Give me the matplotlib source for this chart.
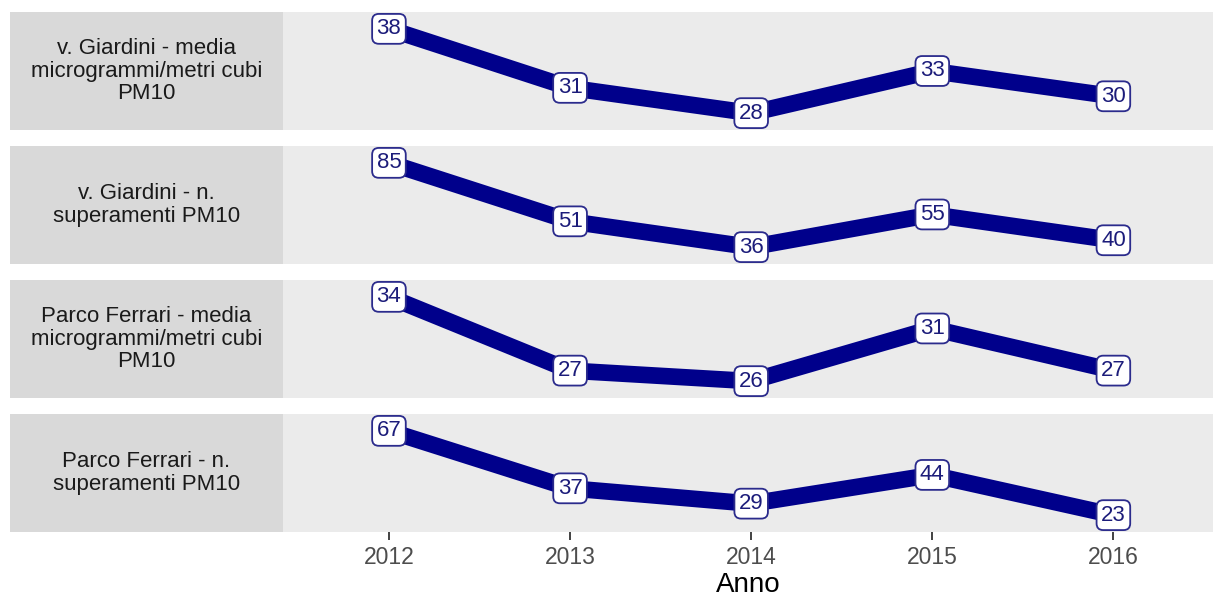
import matplotlib.pyplot as plt

plt.rcParams['font.family'] = ['Liberation Sans', 'DejaVu Sans']

anni = [2012, 2013, 2014, 2015, 2016]
strisce = ['v. Giardini - media\nmicrogrammi/metri cubi\nPM10',
           'v. Giardini - n.\nsuperamenti PM10',
           'Parco Ferrari - media\nmicrogrammi/metri cubi\nPM10',
           'Parco Ferrari - n.\nsuperamenti PM10']
giardini_media = [38, 31, 28, 33, 30]
giardini_sup = [85, 51, 36, 55, 40]
ferrari_media = [34, 27, 26, 31, 27]
ferrari_sup = [67, 37, 29, 44, 23]
serie = [giardini_media, giardini_sup, ferrari_media, ferrari_sup]

W, H = 1213, 601
fig = plt.figure(figsize=(W / 100, H / 100), dpi=100)

navy = '#00008B'
left, right = 283, 1213
strip_left = 10
top0, ph, step = 12, 118, 134

for i, (lab, vals) in enumerate(zip(strisce, serie)):
    top = top0 + i * step
    bottom = (H - top - ph) / H
    # strip on the left
    sax = fig.add_axes([strip_left / W, bottom, (left - strip_left) / W, ph / H])
    sax.set_facecolor('#D9D9D9')
    sax.set_xticks([])
    sax.set_yticks([])
    for s in sax.spines.values():
        s.set_visible(False)
    sax.text(0.5, 0.5, lab, ha='center', va='center', fontsize=16,
             color='#1A1A1A', linespacing=1.12, transform=sax.transAxes)

    ax = fig.add_axes([left / W, bottom, (right - left) / W, ph / H])
    ax.set_facecolor('#EBEBEB')
    for s in ax.spines.values():
        s.set_visible(False)
    ax.plot(anni, vals, color=navy, lw=12, solid_capstyle='butt', solid_joinstyle='round')
    for x, y in zip(anni, vals):
        ax.text(x, y, str(y), ha='center', va='center', fontsize=16, color='#1C1C7A',
                bbox=dict(boxstyle='round,pad=0.2,rounding_size=0.3', fc='white',
                          ec='#2B2B8C', lw=1.3))
    ax.set_xlim(2011.415, 2016.55)
    ax.margins(y=0.2)
    ax.set_yticks([])
    ax.set_xticks(anni)
    if i < 3:
        ax.tick_params(axis='x', length=0, labelbottom=False)
    else:
        ax.set_xticklabels([str(a) for a in anni])
        ax.tick_params(axis='x', length=6, width=1.3, color='#333333',
                       labelsize=16.5, labelcolor='#4D4D4D', pad=4)
        ax.set_xlabel('Anno', fontsize=20, color='black', labelpad=2)

fig.savefig('out.png', dpi=100)
